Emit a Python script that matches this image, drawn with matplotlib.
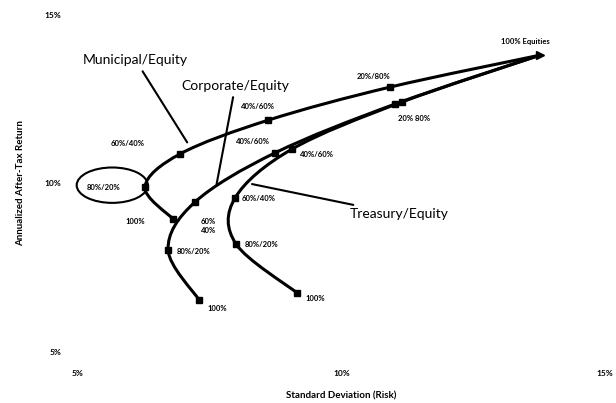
import matplotlib.pyplot as plt
from matplotlib.patches import Ellipse, PathPatch
from matplotlib.path import Path

# standard deviation (%) and return (%) per mix, bond share first
mixes = ['100%', '80%/20%', '60%/40%', '40%/60%', '20%/80%', '100% Equities']
muni_risk = [6.80, 6.27, 6.94, 8.61, 10.92, 13.77]
muni_ret = [8.95, 9.90, 10.88, 11.88, 12.86, 13.81]
corp_risk = [7.30, 6.71, 7.22, 8.74, 11.02, 13.77]
corp_ret = [6.54, 8.03, 9.45, 10.91, 12.36, 13.81]
tsy_risk = [9.16, 8.00, 7.98, 9.06, 11.15, 13.77]
tsy_ret = [6.75, 8.20, 9.57, 11.02, 12.42, 13.81]

ticks = [5, 10, 15]
tick_labels = ['5%', '10%', '15%']

plt.rcParams['font.family'] = ['Lato', 'DejaVu Sans']


def smooth_path(xs, ys, t=6.0):
    # catmull-rom style bezier through the points (drawing only)
    verts = [(xs[0], ys[0])]
    codes = [Path.MOVETO]
    n = len(xs)
    for i in range(n - 1):
        x0, y0 = (xs[i - 1], ys[i - 1]) if i > 0 else (xs[i], ys[i])
        x3, y3 = (xs[i + 2], ys[i + 2]) if i + 2 < n else (xs[i + 1], ys[i + 1])
        c1 = (xs[i] + (xs[i + 1] - x0) / t, ys[i] + (ys[i + 1] - y0) / t)
        c2 = (xs[i + 1] - (x3 - xs[i]) / t, ys[i + 1] - (y3 - ys[i]) / t)
        verts += [c1, c2, (xs[i + 1], ys[i + 1])]
        codes += [Path.CURVE4] * 3
    return Path(verts, codes)


fig = plt.figure(figsize=(6.16, 4.03), dpi=100)
ax = fig.add_axes([78 / 616, 51 / 403, 527 / 616, 337 / 403])

for xs, ys in [(muni_risk, muni_ret), (corp_risk, corp_ret), (tsy_risk, tsy_ret)]:
    ax.add_patch(PathPatch(smooth_path(xs, ys), fill=False, lw=2.2, ec='black', clip_on=False))
    ax.plot(xs[:-1], ys[:-1], ls='none', marker='s', ms=5, color='black', clip_on=False)
ax.plot(muni_risk[-1], muni_ret[-1], marker='>', ms=6, color='black', clip_on=False)

small = dict(fontsize=5.5, fontweight='bold', color='black')
# municipal labels
ax.annotate(mixes[0], (muni_risk[0], muni_ret[0]), xytext=(-34, -4), textcoords='offset points', **small)
ax.annotate(mixes[1], (muni_risk[1], muni_ret[1]), xytext=(-42, -2), textcoords='offset points', **small)
ax.annotate(mixes[2], (muni_risk[2], muni_ret[2]), xytext=(-50, 6), textcoords='offset points', **small)
ax.annotate(mixes[3], (muni_risk[3], muni_ret[3]), xytext=(-20, 8), textcoords='offset points', **small)
ax.annotate(mixes[4], (muni_risk[4], muni_ret[4]), xytext=(-24, 6), textcoords='offset points', **small)
ax.annotate(mixes[5], (muni_risk[5], muni_ret[5]), xytext=(-28, 8), textcoords='offset points', **small)
# corporate labels
ax.annotate(mixes[0], (corp_risk[0], corp_ret[0]), xytext=(6, -8), textcoords='offset points', **small)
ax.annotate(mixes[1], (corp_risk[1], corp_ret[1]), xytext=(6, -3), textcoords='offset points', **small)
ax.annotate('60%\n40%', (corp_risk[2], corp_ret[2]), xytext=(4, -22), textcoords='offset points', **small)
ax.annotate(mixes[3], (corp_risk[3], corp_ret[3]), xytext=(-28, 6), textcoords='offset points', **small)
ax.annotate('20% 80%', (corp_risk[4], corp_ret[4]), xytext=(2, -12), textcoords='offset points', **small)
# treasury labels
ax.annotate(mixes[0], (tsy_risk[0], tsy_ret[0]), xytext=(6, -6), textcoords='offset points', **small)
ax.annotate(mixes[1], (tsy_risk[1], tsy_ret[1]), xytext=(6, -2), textcoords='offset points', **small)
ax.annotate(mixes[2], (tsy_risk[2], tsy_ret[2]), xytext=(5, -2), textcoords='offset points', **small)
ax.annotate('40%/60%', (tsy_risk[3], tsy_ret[3]), xytext=(6, -6), textcoords='offset points', **small)

ax.add_patch(Ellipse((5.65, 9.95), 1.35, 1.05, fill=False, lw=1.5, color='black', clip_on=False))

# series name callouts
big = dict(fontsize=10, color='black', textcoords='offset points',
           arrowprops=dict(arrowstyle='-', color='black', lw=1.5))
ax.annotate('Municipal/Equity', (7.1, 11.15), xytext=(-76, 58), ha='left', **big)
ax.annotate('Corporate/Equity', (7.62, 9.9), xytext=(-25, 70), ha='left', **big)
ax.annotate('Treasury/Equity', (8.25, 10.0), xytext=(72, -25), ha='left', **big)

ax.set_xlim(5, 15)
ax.set_ylim(5, 15)
ax.set_xticks(ticks)
ax.set_xticklabels(tick_labels, fontsize=6, fontweight='bold')
ax.set_yticks(ticks)
ax.set_yticklabels(tick_labels, fontsize=6, fontweight='bold')
ax.tick_params(axis='x', length=0, pad=13)
ax.tick_params(axis='y', length=0, pad=12)
for s in ax.spines.values():
    s.set_visible(False)
ax.set_xlabel('Standard Deviation (Risk)', fontsize=7, fontweight='bold', labelpad=10)
ax.set_ylabel('Annualized After-Tax Return', fontsize=7, fontweight='bold', labelpad=14)

fig.savefig('out.png', dpi=100)
